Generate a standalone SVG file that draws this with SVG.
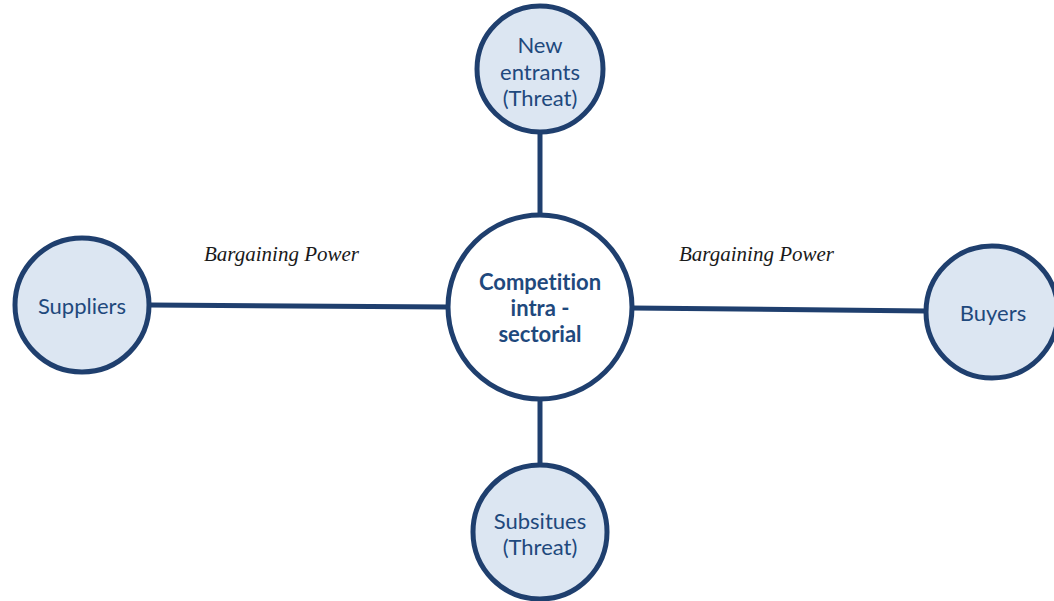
<svg xmlns="http://www.w3.org/2000/svg" width="1054" height="601" viewBox="0 0 1054 601">
  <style>
    .node { fill: #DCE6F2; stroke: #1F3F6E; stroke-width: 5; }
    .hub { fill: #FFFFFF; stroke: #1F3F6E; stroke-width: 5; }
    .link { stroke: #1F3F6E; stroke-width: 5; fill: none; }
    .lbl { font-family: Lato, "Open Sans", sans-serif; font-size: 22px; fill: #1F497D; text-anchor: middle; dominant-baseline: central; font-variant-ligatures: none; }
    .bold { font-weight: bold; }
    .edge { font-family: "Liberation Serif", serif; font-style: italic; font-size: 21px; fill: #1a1a1a; }
  </style>
  <rect width="1054" height="601" fill="#FFFFFF"/>

  <g id="connectors">
    <line class="link" x1="540" y1="131" x2="540" y2="216"/>
    <line class="link" x1="540" y1="399" x2="540" y2="465"/>
    <line class="link" x1="150" y1="305" x2="448" y2="307"/>
    <line class="link" x1="632" y1="308" x2="926" y2="311"/>
  </g>

  <g id="label-supplier-power">
    <text class="edge" x="204" y="261">Bargaining Power</text>
  </g>
  <g id="label-buyer-power">
    <text class="edge" x="679" y="261">Bargaining Power</text>
  </g>

  <g id="node-new-entrants">
    <circle class="node" cx="540" cy="69" r="63"/>
    <text class="lbl" x="540" y="44">New</text>
    <text class="lbl" x="540" y="71">entrants</text>
    <text class="lbl" x="540" y="97">(Threat)</text>
  </g>

  <g id="node-competition">
    <circle class="hub" cx="540" cy="307" r="92"/>
    <text class="lbl bold" x="540" y="281">Competition</text>
    <text class="lbl bold" x="540" y="307">intra -</text>
    <text class="lbl bold" x="540" y="333">sectorial</text>
  </g>

  <g id="node-suppliers">
    <circle class="node" cx="82" cy="305" r="67"/>
    <text class="lbl" x="82" y="305">Suppliers</text>
  </g>

  <g id="node-buyers">
    <circle class="node" cx="992" cy="312" r="66"/>
    <text class="lbl" x="993" y="312">Buyers</text>
  </g>

  <g id="node-substitutes">
    <circle class="node" cx="540" cy="532" r="67"/>
    <text class="lbl" x="540" y="520">Subsitues</text>
    <text class="lbl" x="540" y="546">(Threat)</text>
  </g>
</svg>
